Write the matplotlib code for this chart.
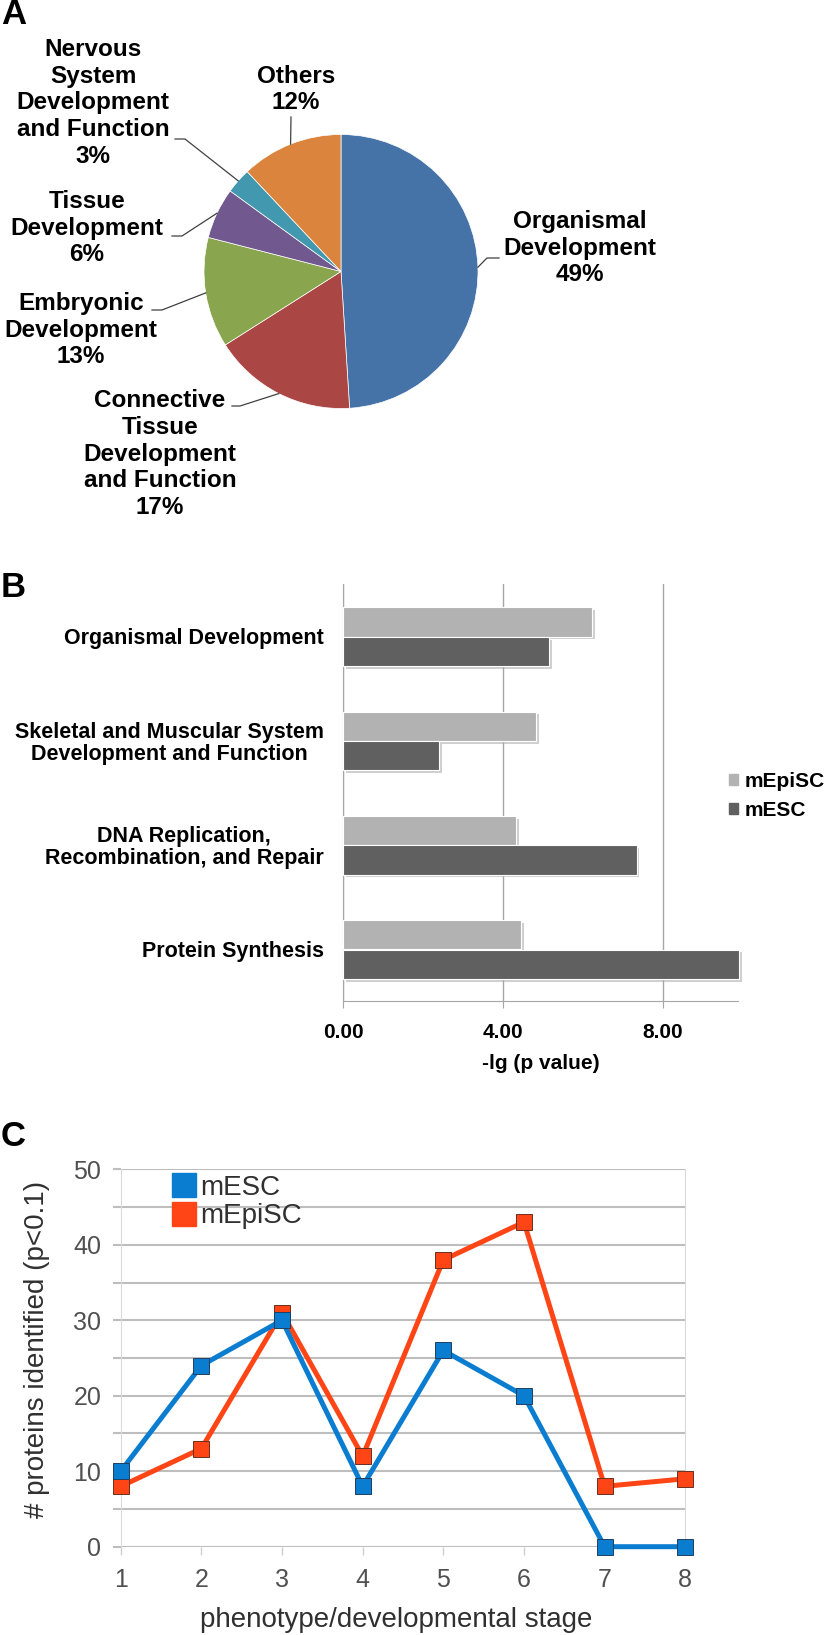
import matplotlib
matplotlib.use('Agg')
import matplotlib.pyplot as plt
import matplotlib.patheffects as pe
from matplotlib.lines import Line2D
from matplotlib.patches import Patch
import numpy as np

plt.rcParams['font.family'] = ['Liberation Sans', 'DejaVu Sans']

# --- panel A: pie of functional categories
pie_labels = ['Organismal\nDevelopment',
              'Connective\nTissue\nDevelopment\nand Function',
              'Embryonic\nDevelopment',
              'Tissue\nDevelopment',
              'Nervous\nSystem\nDevelopment\nand Function',
              'Others']
pie_pct = [49, 17, 13, 6, 3, 12]
pie_colors = ['#4572A7', '#AA4643', '#89A54E', '#71588F', '#4198AF', '#DB843D']

# --- panel B: -lg(p) per category
b_categories = ['Organismal Development',
                'Skeletal and Muscular System\nDevelopment and Function',
                'DNA Replication,\nRecombination, and Repair',
                'Protein Synthesis']
b_episc = [6.22, 4.83, 4.33, 4.45]
b_esc = [5.16, 2.40, 7.34, 9.9]
b_ticks = [0, 4, 8]

# --- panel C: proteins per stage
stages = [1, 2, 3, 4, 5, 6, 7, 8]
c_esc = [10, 24, 30, 8, 26, 20, 0, 0]
c_episc = [8, 13, 31, 12, 38, 43, 8, 9]

W, H = 829, 1635
fig = plt.figure(figsize=(W / 100, H / 100), dpi=100)


def fx(px):
    return px / W


def fy(py):
    return 1 - py / H


# ---------------- A
TOP = 540
axa = fig.add_axes([0, 1 - TOP / H, 1, TOP / H])
wedges, _ = axa.pie(pie_pct, colors=pie_colors, startangle=90, counterclock=False,
                    center=(341, TOP - 271.5), radius=137, frame=True,
                    wedgeprops=dict(edgecolor='white', linewidth=0.5))
axa.set_xlim(0, W)
axa.set_ylim(0, TOP)
axa.set_aspect('auto')
axa.axis('off')

text_pos = [(580, 248), (160, 454), (81, 330), (87, 228), (93, 103), (296, 89.5)]
leaders = [((487, 258), (499, 258)), ((240, 406), (232, 406)), ((162, 310), (152, 310)),
           ((182, 236), (172, 236)), ((185, 139), (175, 139)), ((291, 117), (291, 117))]
for w, lab, p, (tx, ty), (e1, e2) in zip(wedges, pie_labels, pie_pct, text_pos, leaders):
    ang = np.deg2rad((w.theta1 + w.theta2) / 2)
    sx = w.center[0] + w.r * np.cos(ang)
    sy = w.center[1] + w.r * np.sin(ang)
    axa.plot([sx, e1[0], e2[0]], [sy, TOP - e1[1], TOP - e2[1]], color='#404040', lw=0.9)
    axa.text(tx, TOP - ty, f'{lab}\n{p}%', ha='center', va='center', fontsize=17.5,
             fontweight='bold', linespacing=1.2)

# ---------------- B
axb = fig.add_axes([fx(343), fy(1000.7), fx(737.7) - fx(343), (1000.7 - 584) / H])
y = np.arange(len(b_categories))
shadow = [pe.SimplePatchShadow(offset=(2, -2), shadow_rgbFace='#b0b0b0', alpha=0.6), pe.Normal()]
axb.barh(y - 0.135, b_episc, height=0.28, color='#B2B2B2', edgecolor='white', linewidth=0.8,
         path_effects=shadow, zorder=3)
axb.barh(y + 0.15, b_esc, height=0.28, color='#606060', edgecolor='white', linewidth=0.8,
         path_effects=shadow, zorder=3, clip_on=False)
axb.set_ylim(3.5, -0.5)
axb.set_xlim(0, 9.87)
axb.set_yticks(y, b_categories, fontsize=15.5, fontweight='bold')
for lbl in axb.get_yticklabels():
    lbl.set_multialignment('center')
    lbl.set_linespacing(1.05)
axb.set_xticks(b_ticks, [f'{t:.2f}' for t in b_ticks], fontsize=15, fontweight='bold')
axb.tick_params(axis='y', length=0, pad=14)
axb.tick_params(axis='x', length=5, color='#A6A6A6', pad=11)
axb.grid(axis='x', color='#A6A6A6', lw=1)
axb.set_axisbelow(True)
for s in ['top', 'right']:
    axb.spines[s].set_visible(False)
for s in ['left', 'bottom']:
    axb.spines[s].set_color('#A6A6A6')
axb.set_xlabel('-lg (p value)', fontsize=15, fontweight='bold', labelpad=9)

fig.legend([Patch(color='#B2B2B2'), Patch(color='#606060')], ['mEpiSC', 'mESC'],
           loc='center left', bbox_to_anchor=(fx(729), fy(796)), frameon=False,
           prop=dict(size=15, weight='bold'), handlelength=0.45, handleheight=0.45,
           handletextpad=0.3, labelspacing=0.5, borderpad=0, borderaxespad=0)

# ---------------- C
axc = fig.add_axes([fx(120.7), fy(1546.7), fx(685.3) - fx(120.7), (1546.7 - 1169.3) / H])
red, blue = '#FF4515', '#0A7DD0'
axc.plot(stages, c_episc, color=red, lw=3.6, marker='s', ms=11, mec='#6b3020', mew=0.7,
         clip_on=False, zorder=3)
axc.plot(stages, c_esc, color=blue, lw=3.6, marker='s', ms=11, mec='#1f4060', mew=0.7,
         clip_on=False, zorder=4)
axc.set_xlim(1, 8)
axc.set_ylim(0, 50)
axc.set_yticks(range(0, 51, 10))
axc.set_yticks(range(5, 50, 10), minor=True)
axc.set_xticks(stages)
axc.grid(axis='y', which='both', color='#BEBEBE', lw=1.5)
for s in ['top', 'bottom']:
    axc.spines[s].set_visible(False)
for s in ['left', 'right']:
    axc.spines[s].set_color('#DADADA')
axc.tick_params(axis='y', which='both', length=6, width=1.5, color='#BEBEBE',
                labelsize=18, labelcolor='#505050', pad=8)
axc.tick_params(axis='x', length=6, width=1, color='#D0D0D0', labelsize=18,
                labelcolor='#505050', pad=9)
axc.set_xlabel('phenotype/developmental stage', fontsize=20, color='#303030')
axc.xaxis.label.set_verticalalignment('center')
axc.xaxis.set_label_coords(0.4876, -0.194)
axc.set_ylabel('# proteins identified (p<0.1)', fontsize=20, color='#303030')
axc.yaxis.label.set_verticalalignment('center')
axc.yaxis.set_label_coords(-0.148, 0.522)

leg_handles = [Line2D([], [], color=blue, marker='s', ms=17, ls='none'),
               Line2D([], [], color=red, marker='s', ms=17, ls='none')]
axc.legend(leg_handles, ['mESC', 'mEpiSC'], loc='upper left', bbox_to_anchor=(0.091, 0.986),
           frameon=False, fontsize=20, handlelength=0.85, handletextpad=0.16,
           labelspacing=0.1, borderpad=0, borderaxespad=0, labelcolor='#303030')

# panel letters
for letter, py in [('A', 15), ('B', 587), ('C', 1137)]:
    fig.text(fx(1), fy(py), letter, fontsize=25, fontweight='bold', va='center', ha='left')

fig.savefig('out.png', dpi=100)
